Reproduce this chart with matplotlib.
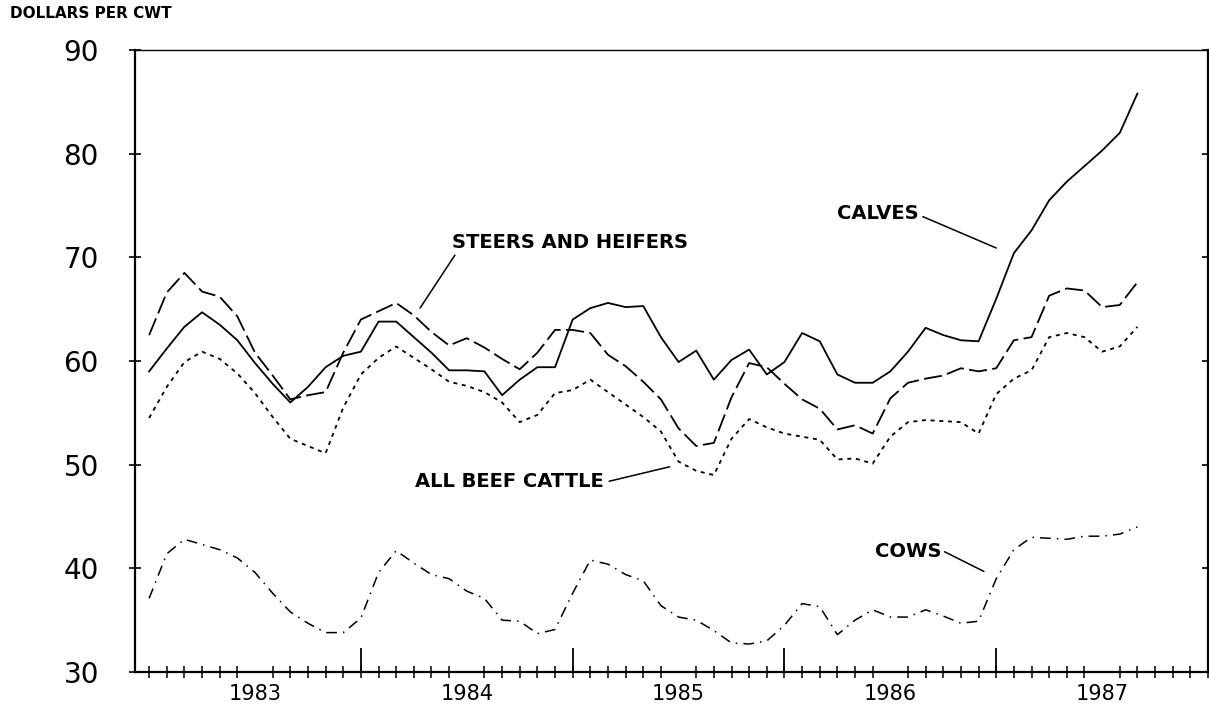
import matplotlib
matplotlib.use("Agg")
import matplotlib.pyplot as plt
import numpy as np
import pandas as pd

# ---------------- data (monthly, Jan 1983 - Sep 1987) ----------------
months = pd.period_range("1983-01", "1987-09", freq="M")
year_labels = ["1983", "1984", "1985", "1986", "1987"]

calves = [59.0, 61.2, 63.3, 64.7, 63.5, 62.0, 59.8, 57.8, 56.0, 57.5, 59.4, 60.5,
          60.9, 63.8, 63.8, 62.3, 60.8, 59.1, 59.1, 59.0, 56.7, 58.2, 59.4, 59.4,
          64.0, 65.1, 65.6, 65.2, 65.3, 62.3, 59.9, 61.0, 58.2, 60.1, 61.1, 58.7,
          59.9, 62.7, 61.9, 58.7, 57.9, 57.9, 59.0, 60.9, 63.2, 62.5, 62.0, 61.9,
          66.0, 70.4, 72.6, 75.5, 77.3, 78.8, 80.3, 82.0, 85.8]

steers_heifers = [62.5, 66.6, 68.5, 66.7, 66.2, 64.3, 60.8, 58.6, 56.3, 56.7, 57.0, 60.8,
                  64.0, 64.8, 65.6, 64.4, 62.8, 61.5, 62.2, 61.3, 60.2, 59.2, 60.8, 63.0,
                  63.0, 62.7, 60.6, 59.5, 58.0, 56.3, 53.5, 51.8, 52.1, 56.5, 59.8, 59.4,
                  57.8, 56.3, 55.4, 53.4, 53.8, 53.0, 56.4, 57.9, 58.3, 58.6, 59.3, 59.0,
                  59.3, 62.0, 62.3, 66.3, 67.0, 66.8, 65.2, 65.4, 67.6]

all_beef = [54.5, 57.5, 59.9, 60.9, 60.2, 58.8, 56.9, 54.6, 52.5, 51.8, 51.1, 55.5,
            58.7, 60.3, 61.4, 60.3, 59.2, 58.0, 57.6, 57.0, 56.0, 54.1, 54.8, 56.9,
            57.2, 58.2, 57.0, 55.8, 54.6, 53.2, 50.3, 49.4, 49.0, 52.5, 54.4, 53.6,
            53.0, 52.7, 52.4, 50.5, 50.6, 50.1, 52.7, 54.1, 54.3, 54.2, 54.1, 53.0,
            56.8, 58.3, 59.1, 62.3, 62.7, 62.3, 60.9, 61.4, 63.3]

cows = [37.1, 41.4, 42.8, 42.3, 41.8, 41.0, 39.6, 37.6, 35.8, 34.7, 33.8, 33.8,
        35.2, 39.6, 41.7, 40.5, 39.4, 39.0, 37.8, 37.1, 35.0, 34.9, 33.7, 34.1,
        37.6, 40.8, 40.4, 39.4, 38.8, 36.4, 35.3, 35.0, 34.0, 32.8, 32.7, 33.0,
        34.5, 36.6, 36.3, 33.6, 35.0, 36.0, 35.3, 35.3, 36.0, 35.4, 34.7, 34.9,
        39.0, 41.8, 43.0, 42.9, 42.8, 43.1, 43.1, 43.3, 44.0]

# month index relative to January 1983
start = pd.Period("1983-01", freq="M")
x = np.array([(p - start).n for p in months])

# ---------------- figure ----------------
plt.rcParams['font.family'] = ['DejaVu Sans']
fig = plt.figure(figsize=(12.09, 7.09), dpi=100)
ax = fig.add_axes([135/1209, 1 - 672/709, (1208-135)/1209, (672-50)/709])

ax.plot(x, calves, color="black", lw=1.3, linestyle="-")
ax.plot(x, steers_heifers, color="black", lw=1.3, linestyle=(0, (10, 3)))
ax.plot(x, all_beef, color="black", lw=1.3, linestyle=(0, (2.2, 2.6)))
ax.plot(x, cows, color="black", lw=1.1, linestyle=(0, (7, 4, 1, 4)))

ax.set_xlim(-0.8, 60)
ax.set_ylim(30, 90)

for s in ax.spines.values():
    s.set_linewidth(1.6)
ax.spines['top'].set_linewidth(1.0)

# y ticks
ax.set_yticks(np.arange(30, 91, 10))
ax.tick_params(axis='y', which='major', direction='inout', length=8, width=1.2,
               labelsize=20, pad=22, right=True)

# x: labels at mid-year, monthly minor ticks, long year boundary ticks
ax.set_xticks([6 + 12*i for i in range(len(year_labels))])
ax.set_xticklabels(year_labels)
ax.tick_params(axis='x', which='major', length=0, labelsize=15, pad=9)
ax.set_xticks(np.arange(0, 61, 1), minor=True)
ax.tick_params(axis='x', which='minor', direction='inout', length=8, width=1.1)
ax.tick_params(axis='y', which='minor', length=0)

sec = ax.secondary_xaxis('bottom')
sec.set_xticks([12, 24, 36, 48])
sec.tick_params(direction='in', length=17, width=1.3, labelbottom=False)
sec.spines['bottom'].set_visible(False)

# annotations
txt = dict(fontsize=14, fontweight='bold', color='black', ha='center', va='center')
arr = dict(arrowstyle='-', color='black', lw=1.1, shrinkA=0, shrinkB=0)
ax.annotate("STEERS AND HEIFERS", xy=(15.35, 65.1), xytext=(23.85, 71.4),
            arrowprops=dict(arr, relpos=(0.02, 0.0)), **txt)
ax.annotate("CALVES", xy=(48.0, 70.9), xytext=(41.3, 74.2),
            arrowprops=dict(arr, relpos=(1.05, 0.35)), **txt)
ax.annotate("ALL BEEF CATTLE", xy=(29.5, 49.8), xytext=(20.4, 48.4),
            arrowprops=dict(arr, relpos=(1.03, 0.5)), **txt)
ax.annotate("COWS", xy=(47.3, 39.7), xytext=(43.0, 41.6),
            arrowprops=dict(arr, relpos=(1.05, 0.5)), **txt)

fig.text(10/1209, 1 - 14/709, "DOLLARS PER CWT", fontsize=11, fontweight='bold',
         ha='left', va='center')

fig.savefig("out.png", dpi=100)
